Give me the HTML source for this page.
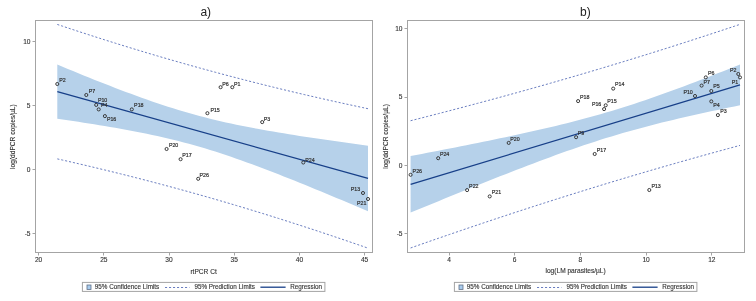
<!DOCTYPE html>
<html><head><meta charset="utf-8"><style>
html,body{margin:0;padding:0;background:#fff;}
body{width:756px;height:301px;overflow:hidden;}
svg{display:block;will-change:transform;filter:blur(0.3px);}
text{font-family:"Liberation Sans",sans-serif;fill:#333333;}
.pl{font-size:5.3px;stroke:#333;stroke-width:0.2px;}
.tk{font-size:6.6px;stroke:#333;stroke-width:0.12px;}
.al{font-size:6.6px;stroke:#333;stroke-width:0.12px;}
.lg{font-size:6.3px;stroke:#333;stroke-width:0.12px;}
.ti{font-size:12px;fill:#222;}
</style></head><body>
<svg width="756" height="301" viewBox="0 0 756 301">
<rect width="756" height="301" fill="#fff"/>
<path d="M57.30,64.61 L62.57,66.79 L67.83,68.96 L73.10,71.12 L78.36,73.27 L83.63,75.41 L88.90,77.53 L94.16,79.64 L99.43,81.73 L104.69,83.80 L109.96,85.86 L115.23,87.89 L120.49,89.90 L125.76,91.89 L131.03,93.85 L136.29,95.78 L141.56,97.68 L146.82,99.55 L152.09,101.38 L157.36,103.18 L162.62,104.93 L167.89,106.65 L173.15,108.31 L178.42,109.94 L183.69,111.51 L188.95,113.04 L194.22,114.51 L199.48,115.94 L204.75,117.32 L210.02,118.65 L215.28,119.94 L220.55,121.18 L225.82,122.38 L231.08,123.54 L236.35,124.66 L241.61,125.74 L246.88,126.79 L252.15,127.81 L257.41,128.79 L262.68,129.76 L267.94,130.69 L273.21,131.60 L278.48,132.50 L283.74,133.37 L289.01,134.22 L294.27,135.06 L299.54,135.89 L304.81,136.69 L310.07,137.49 L315.34,138.28 L320.61,139.05 L325.87,139.81 L331.14,140.57 L336.40,141.31 L341.67,142.05 L346.94,142.78 L352.20,143.51 L357.47,144.23 L362.73,144.94 L368.00,145.65 L368.00,211.21 L362.73,208.97 L357.47,206.75 L352.20,204.52 L346.94,202.31 L341.67,200.10 L336.40,197.89 L331.14,195.70 L325.87,193.51 L320.61,191.34 L315.34,189.17 L310.07,187.01 L304.81,184.87 L299.54,182.74 L294.27,180.62 L289.01,178.52 L283.74,176.43 L278.48,174.36 L273.21,172.31 L267.94,170.28 L262.68,168.28 L257.41,166.30 L252.15,164.35 L246.88,162.42 L241.61,160.53 L236.35,158.67 L231.08,156.85 L225.82,155.07 L220.55,153.32 L215.28,151.62 L210.02,149.97 L204.75,148.36 L199.48,146.80 L194.22,145.29 L188.95,143.82 L183.69,142.41 L178.42,141.04 L173.15,139.72 L167.89,138.45 L162.62,137.22 L157.36,136.04 L152.09,134.89 L146.82,133.78 L141.56,132.71 L136.29,131.67 L131.03,130.66 L125.76,129.68 L120.49,128.73 L115.23,127.80 L109.96,126.89 L104.69,126.00 L99.43,125.14 L94.16,124.29 L88.90,123.45 L83.63,122.63 L78.36,121.83 L73.10,121.03 L67.83,120.25 L62.57,119.48 L57.30,118.72 Z" fill="#b6d1ea"/>
<path d="M57.30,24.45 L62.57,26.20 L67.83,27.94 L73.10,29.68 L78.36,31.40 L83.63,33.11 L88.90,34.81 L94.16,36.50 L99.43,38.18 L104.69,39.85 L109.96,41.51 L115.23,43.15 L120.49,44.79 L125.76,46.41 L131.03,48.03 L136.29,49.63 L141.56,51.22 L146.82,52.80 L152.09,54.36 L157.36,55.92 L162.62,57.46 L167.89,58.99 L173.15,60.51 L178.42,62.02 L183.69,63.51 L188.95,65.00 L194.22,66.47 L199.48,67.93 L204.75,69.38 L210.02,70.82 L215.28,72.24 L220.55,73.65 L225.82,75.06 L231.08,76.44 L236.35,77.82 L241.61,79.19 L246.88,80.54 L252.15,81.89 L257.41,83.22 L262.68,84.54 L267.94,85.85 L273.21,87.14 L278.48,88.43 L283.74,89.71 L289.01,90.97 L294.27,92.22 L299.54,93.47 L304.81,94.70 L310.07,95.92 L315.34,97.13 L320.61,98.33 L325.87,99.53 L331.14,100.71 L336.40,101.88 L341.67,103.04 L346.94,104.19 L352.20,105.33 L357.47,106.47 L362.73,107.59 L368.00,108.71" fill="none" stroke="#6a7ec0" stroke-width="1" stroke-dasharray="2.1,1.9"/>
<path d="M57.30,158.89 L62.57,160.07 L67.83,161.27 L73.10,162.48 L78.36,163.70 L83.63,164.93 L88.90,166.17 L94.16,167.42 L99.43,168.68 L104.69,169.95 L109.96,171.24 L115.23,172.53 L120.49,173.84 L125.76,175.15 L131.03,176.48 L136.29,177.82 L141.56,179.17 L146.82,180.54 L152.09,181.91 L157.36,183.30 L162.62,184.69 L167.89,186.10 L173.15,187.53 L178.42,188.96 L183.69,190.40 L188.95,191.86 L194.22,193.33 L199.48,194.81 L204.75,196.30 L210.02,197.81 L215.28,199.32 L220.55,200.85 L225.82,202.39 L231.08,203.94 L236.35,205.51 L241.61,207.08 L246.88,208.67 L252.15,210.27 L257.41,211.88 L262.68,213.50 L267.94,215.13 L273.21,216.77 L278.48,218.43 L283.74,220.09 L289.01,221.77 L294.27,223.46 L299.54,225.15 L304.81,226.86 L310.07,228.58 L315.34,230.31 L320.61,232.05 L325.87,233.80 L331.14,235.56 L336.40,237.33 L341.67,239.11 L346.94,240.90 L352.20,242.70 L357.47,244.51 L362.73,246.32 L368.00,248.15" fill="none" stroke="#6a7ec0" stroke-width="1" stroke-dasharray="2.1,1.9"/>
<line x1="57.30" y1="91.67" x2="368.00" y2="178.43" stroke="#173f88" stroke-width="1.3"/>
<circle cx="57.3" cy="84" r="1.55" fill="none" stroke="#333333" stroke-width="0.95"/>
<text x="59.2" y="81.50" class="pl">P2</text>
<circle cx="86.3" cy="95" r="1.55" fill="none" stroke="#333333" stroke-width="0.95"/>
<text x="88.7" y="92.70" class="pl">P7</text>
<circle cx="96.2" cy="104.9" r="1.55" fill="none" stroke="#333333" stroke-width="0.95"/>
<text x="97.9" y="102.20" class="pl">P10</text>
<circle cx="98.7" cy="109.4" r="1.55" fill="none" stroke="#333333" stroke-width="0.95"/>
<text x="101" y="106.90" class="pl">P4</text>
<circle cx="104.9" cy="116.1" r="1.55" fill="none" stroke="#333333" stroke-width="0.95"/>
<text x="106.9" y="121.30" class="pl">P16</text>
<circle cx="131.8" cy="109.4" r="1.55" fill="none" stroke="#333333" stroke-width="0.95"/>
<text x="134.1" y="107.10" class="pl">P18</text>
<circle cx="166.6" cy="149" r="1.55" fill="none" stroke="#333333" stroke-width="0.95"/>
<text x="168.9" y="146.80" class="pl">P20</text>
<circle cx="180.6" cy="159.2" r="1.55" fill="none" stroke="#333333" stroke-width="0.95"/>
<text x="182.2" y="156.80" class="pl">P17</text>
<circle cx="198.2" cy="178.8" r="1.55" fill="none" stroke="#333333" stroke-width="0.95"/>
<text x="199.5" y="176.70" class="pl">P26</text>
<circle cx="207.4" cy="113.2" r="1.55" fill="none" stroke="#333333" stroke-width="0.95"/>
<text x="210.4" y="111.70" class="pl">P15</text>
<circle cx="220.6" cy="87.2" r="1.55" fill="none" stroke="#333333" stroke-width="0.95"/>
<text x="222.3" y="85.80" class="pl">P6</text>
<circle cx="232.3" cy="87.2" r="1.55" fill="none" stroke="#333333" stroke-width="0.95"/>
<text x="233.9" y="85.80" class="pl">P1</text>
<circle cx="262.2" cy="122.1" r="1.55" fill="none" stroke="#333333" stroke-width="0.95"/>
<text x="263.8" y="120.70" class="pl">P3</text>
<circle cx="303.3" cy="162.5" r="1.55" fill="none" stroke="#333333" stroke-width="0.95"/>
<text x="305.2" y="161.70" class="pl">P24</text>
<circle cx="363" cy="193" r="1.55" fill="none" stroke="#333333" stroke-width="0.95"/>
<text x="350.8" y="191.00" class="pl">P13</text>
<circle cx="368" cy="199" r="1.55" fill="none" stroke="#333333" stroke-width="0.95"/>
<text x="357" y="205.00" class="pl">P21</text>
<rect x="35.5" y="20.5" width="337.0" height="232.0" fill="none" stroke="#a4a4a4" stroke-width="1"/>
<line x1="38.5" y1="252.5" x2="38.5" y2="255.5" stroke="#a4a4a4" stroke-width="1"/>
<text x="38.6" y="261.7" class="tk" text-anchor="middle">20</text>
<line x1="103.5" y1="252.5" x2="103.5" y2="255.5" stroke="#a4a4a4" stroke-width="1"/>
<text x="103.8" y="261.7" class="tk" text-anchor="middle">25</text>
<line x1="169.5" y1="252.5" x2="169.5" y2="255.5" stroke="#a4a4a4" stroke-width="1"/>
<text x="169" y="261.7" class="tk" text-anchor="middle">30</text>
<line x1="234.5" y1="252.5" x2="234.5" y2="255.5" stroke="#a4a4a4" stroke-width="1"/>
<text x="234.2" y="261.7" class="tk" text-anchor="middle">35</text>
<line x1="299.5" y1="252.5" x2="299.5" y2="255.5" stroke="#a4a4a4" stroke-width="1"/>
<text x="299.4" y="261.7" class="tk" text-anchor="middle">40</text>
<line x1="364.5" y1="252.5" x2="364.5" y2="255.5" stroke="#a4a4a4" stroke-width="1"/>
<text x="364.6" y="261.7" class="tk" text-anchor="middle">45</text>
<line x1="32.5" y1="41.5" x2="35.5" y2="41.5" stroke="#a4a4a4" stroke-width="1"/>
<text x="30.5" y="43.6" class="tk" text-anchor="end">10</text>
<line x1="32.5" y1="105.5" x2="35.5" y2="105.5" stroke="#a4a4a4" stroke-width="1"/>
<text x="30.5" y="107.7" class="tk" text-anchor="end">5</text>
<line x1="32.5" y1="169.5" x2="35.5" y2="169.5" stroke="#a4a4a4" stroke-width="1"/>
<text x="30.5" y="171.9" class="tk" text-anchor="end">0</text>
<line x1="32.5" y1="233.5" x2="35.5" y2="233.5" stroke="#a4a4a4" stroke-width="1"/>
<text x="30.5" y="236.1" class="tk" text-anchor="end">-5</text>
<text x="205.75" y="15.6" class="ti" text-anchor="middle">a)</text>
<text x="203.6" y="273.8" class="al" text-anchor="middle">rtPCR Ct</text>
<text transform="translate(14.6,136.6) rotate(-90)" class="al" text-anchor="middle">log(ddPCR copies/µL)</text>
<path d="M410.60,156.07 L416.18,155.01 L421.77,153.94 L427.35,152.87 L432.93,151.79 L438.52,150.71 L444.10,149.62 L449.68,148.53 L455.26,147.43 L460.85,146.32 L466.43,145.21 L472.01,144.09 L477.60,142.97 L483.18,141.83 L488.76,140.69 L494.35,139.54 L499.93,138.37 L505.51,137.20 L511.09,136.01 L516.68,134.81 L522.26,133.59 L527.84,132.36 L533.43,131.11 L539.01,129.85 L544.59,128.56 L550.18,127.25 L555.76,125.91 L561.34,124.56 L566.93,123.17 L572.51,121.75 L578.09,120.31 L583.67,118.83 L589.26,117.32 L594.84,115.77 L600.42,114.19 L606.01,112.57 L611.59,110.91 L617.17,109.21 L622.76,107.48 L628.34,105.71 L633.92,103.90 L639.51,102.05 L645.09,100.18 L650.67,98.26 L656.25,96.32 L661.84,94.35 L667.42,92.35 L673.00,90.32 L678.59,88.27 L684.17,86.19 L689.75,84.10 L695.34,81.98 L700.92,79.85 L706.50,77.70 L712.08,75.54 L717.67,73.36 L723.25,71.17 L728.83,68.97 L734.42,66.75 L740.00,64.53 L740.00,105.23 L734.42,106.38 L728.83,107.54 L723.25,108.71 L717.67,109.89 L712.08,111.08 L706.50,112.29 L700.92,113.51 L695.34,114.75 L689.75,116.01 L684.17,117.29 L678.59,118.58 L673.00,119.90 L667.42,121.25 L661.84,122.62 L656.25,124.02 L650.67,125.45 L645.09,126.91 L639.51,128.40 L633.92,129.93 L628.34,131.49 L622.76,133.09 L617.17,134.73 L611.59,136.40 L606.01,138.12 L600.42,139.87 L594.84,141.65 L589.26,143.48 L583.67,145.34 L578.09,147.23 L572.51,149.16 L566.93,151.12 L561.34,153.10 L555.76,155.11 L550.18,157.15 L544.59,159.21 L539.01,161.30 L533.43,163.40 L527.84,165.52 L522.26,167.66 L516.68,169.82 L511.09,171.99 L505.51,174.18 L499.93,176.37 L494.35,178.58 L488.76,180.80 L483.18,183.03 L477.60,185.27 L472.01,187.51 L466.43,189.77 L460.85,192.03 L455.26,194.29 L449.68,196.57 L444.10,198.85 L438.52,201.13 L432.93,203.42 L427.35,205.71 L421.77,208.01 L416.18,210.31 L410.60,212.62 Z" fill="#b6d1ea"/>
<path d="M410.60,120.72 L416.18,119.31 L421.77,117.89 L427.35,116.47 L432.93,115.03 L438.52,113.59 L444.10,112.15 L449.68,110.69 L455.26,109.23 L460.85,107.77 L466.43,106.29 L472.01,104.81 L477.60,103.32 L483.18,101.83 L488.76,100.32 L494.35,98.81 L499.93,97.29 L505.51,95.77 L511.09,94.23 L516.68,92.69 L522.26,91.14 L527.84,89.58 L533.43,88.02 L539.01,86.45 L544.59,84.86 L550.18,83.28 L555.76,81.68 L561.34,80.07 L566.93,78.46 L572.51,76.84 L578.09,75.21 L583.67,73.57 L589.26,71.92 L594.84,70.27 L600.42,68.60 L606.01,66.93 L611.59,65.25 L617.17,63.56 L622.76,61.87 L628.34,60.16 L633.92,58.45 L639.51,56.73 L645.09,55.00 L650.67,53.26 L656.25,51.51 L661.84,49.76 L667.42,48.00 L673.00,46.23 L678.59,44.45 L684.17,42.66 L689.75,40.87 L695.34,39.06 L700.92,37.25 L706.50,35.43 L712.08,33.61 L717.67,31.77 L723.25,29.93 L728.83,28.08 L734.42,26.22 L740.00,24.36" fill="none" stroke="#6a7ec0" stroke-width="1" stroke-dasharray="2.1,1.9"/>
<path d="M410.60,247.97 L416.18,246.01 L421.77,244.06 L427.35,242.11 L432.93,240.17 L438.52,238.24 L444.10,236.32 L449.68,234.40 L455.26,232.49 L460.85,230.58 L466.43,228.68 L472.01,226.79 L477.60,224.91 L483.18,223.04 L488.76,221.17 L494.35,219.31 L499.93,217.45 L505.51,215.61 L511.09,213.77 L516.68,211.94 L522.26,210.12 L527.84,208.30 L533.43,206.50 L539.01,204.70 L544.59,202.91 L550.18,201.13 L555.76,199.35 L561.34,197.59 L566.93,195.83 L572.51,194.08 L578.09,192.34 L583.67,190.60 L589.26,188.88 L594.84,187.16 L600.42,185.45 L606.01,183.75 L611.59,182.06 L617.17,180.38 L622.76,178.70 L628.34,177.03 L633.92,175.38 L639.51,173.73 L645.09,172.08 L650.67,170.45 L656.25,168.82 L661.84,167.21 L667.42,165.60 L673.00,164.00 L678.59,162.40 L684.17,160.82 L689.75,159.24 L695.34,157.67 L700.92,156.11 L706.50,154.56 L712.08,153.01 L717.67,151.48 L723.25,149.95 L728.83,148.42 L734.42,146.91 L740.00,145.40" fill="none" stroke="#6a7ec0" stroke-width="1" stroke-dasharray="2.1,1.9"/>
<line x1="410.60" y1="184.35" x2="740.00" y2="84.88" stroke="#173f88" stroke-width="1.3"/>
<circle cx="410.6" cy="174.8" r="1.55" fill="none" stroke="#333333" stroke-width="0.95"/>
<text x="412.6" y="173.30" class="pl">P26</text>
<circle cx="438.2" cy="158.2" r="1.55" fill="none" stroke="#333333" stroke-width="0.95"/>
<text x="439.9" y="156.40" class="pl">P24</text>
<circle cx="467.1" cy="190.1" r="1.55" fill="none" stroke="#333333" stroke-width="0.95"/>
<text x="469.1" y="188.30" class="pl">P22</text>
<circle cx="489.7" cy="196.4" r="1.55" fill="none" stroke="#333333" stroke-width="0.95"/>
<text x="491.7" y="194.30" class="pl">P21</text>
<circle cx="508.7" cy="142.9" r="1.55" fill="none" stroke="#333333" stroke-width="0.95"/>
<text x="510.3" y="141.10" class="pl">P20</text>
<circle cx="576.1" cy="137.2" r="1.55" fill="none" stroke="#333333" stroke-width="0.95"/>
<text x="577.8" y="135.30" class="pl">P9</text>
<circle cx="578.1" cy="101.1" r="1.55" fill="none" stroke="#333333" stroke-width="0.95"/>
<text x="580" y="99.40" class="pl">P18</text>
<circle cx="594.7" cy="154" r="1.55" fill="none" stroke="#333333" stroke-width="0.95"/>
<text x="596.7" y="151.80" class="pl">P17</text>
<circle cx="604.1" cy="109.1" r="1.55" fill="none" stroke="#333333" stroke-width="0.95"/>
<text x="591.9" y="106.10" class="pl">P16</text>
<circle cx="605.7" cy="105.3" r="1.55" fill="none" stroke="#333333" stroke-width="0.95"/>
<text x="607.3" y="103.40" class="pl">P15</text>
<circle cx="613.2" cy="88.6" r="1.55" fill="none" stroke="#333333" stroke-width="0.95"/>
<text x="615" y="86.20" class="pl">P14</text>
<circle cx="649.3" cy="190" r="1.55" fill="none" stroke="#333333" stroke-width="0.95"/>
<text x="651.4" y="187.90" class="pl">P13</text>
<circle cx="695" cy="96" r="1.55" fill="none" stroke="#333333" stroke-width="0.95"/>
<text x="683.4" y="93.50" class="pl">P10</text>
<circle cx="701.6" cy="85.6" r="1.55" fill="none" stroke="#333333" stroke-width="0.95"/>
<text x="703.4" y="83.50" class="pl">P7</text>
<circle cx="705.8" cy="77.4" r="1.55" fill="none" stroke="#333333" stroke-width="0.95"/>
<text x="707.9" y="74.90" class="pl">P6</text>
<circle cx="711.3" cy="91" r="1.55" fill="none" stroke="#333333" stroke-width="0.95"/>
<text x="713.2" y="88.10" class="pl">P5</text>
<circle cx="711.3" cy="101.4" r="1.55" fill="none" stroke="#333333" stroke-width="0.95"/>
<text x="713.2" y="106.70" class="pl">P4</text>
<circle cx="717.9" cy="115.1" r="1.55" fill="none" stroke="#333333" stroke-width="0.95"/>
<text x="720.2" y="112.50" class="pl">P3</text>
<circle cx="738.3" cy="74" r="1.55" fill="none" stroke="#333333" stroke-width="0.95"/>
<text x="730" y="71.80" class="pl">P2</text>
<circle cx="740" cy="77.4" r="1.55" fill="none" stroke="#333333" stroke-width="0.95"/>
<text x="731.8" y="83.50" class="pl">P1</text>
<rect x="407.5" y="20.5" width="337.0" height="232.0" fill="none" stroke="#a4a4a4" stroke-width="1"/>
<line x1="449.5" y1="252.5" x2="449.5" y2="255.5" stroke="#a4a4a4" stroke-width="1"/>
<text x="449.0" y="261.7" class="tk" text-anchor="middle">4</text>
<line x1="514.5" y1="252.5" x2="514.5" y2="255.5" stroke="#a4a4a4" stroke-width="1"/>
<text x="514.7" y="261.7" class="tk" text-anchor="middle">6</text>
<line x1="580.5" y1="252.5" x2="580.5" y2="255.5" stroke="#a4a4a4" stroke-width="1"/>
<text x="580.4" y="261.7" class="tk" text-anchor="middle">8</text>
<line x1="646.5" y1="252.5" x2="646.5" y2="255.5" stroke="#a4a4a4" stroke-width="1"/>
<text x="646.1" y="261.7" class="tk" text-anchor="middle">10</text>
<line x1="711.5" y1="252.5" x2="711.5" y2="255.5" stroke="#a4a4a4" stroke-width="1"/>
<text x="711.8" y="261.7" class="tk" text-anchor="middle">12</text>
<line x1="404.5" y1="28.5" x2="407.5" y2="28.5" stroke="#a4a4a4" stroke-width="1"/>
<text x="402.5" y="31.0" class="tk" text-anchor="end">10</text>
<line x1="404.5" y1="97.5" x2="407.5" y2="97.5" stroke="#a4a4a4" stroke-width="1"/>
<text x="402.5" y="99.4" class="tk" text-anchor="end">5</text>
<line x1="404.5" y1="165.5" x2="407.5" y2="165.5" stroke="#a4a4a4" stroke-width="1"/>
<text x="402.5" y="167.8" class="tk" text-anchor="end">0</text>
<line x1="404.5" y1="233.5" x2="407.5" y2="233.5" stroke="#a4a4a4" stroke-width="1"/>
<text x="402.5" y="236.20000000000002" class="tk" text-anchor="end">-5</text>
<text x="585.35" y="15.6" class="ti" text-anchor="middle">b)</text>
<text x="575.6" y="273.0" class="al" text-anchor="middle">log(LM parasites/µL)</text>
<text transform="translate(388.3,136.5) rotate(-90)" class="al" text-anchor="middle">log(ddPCR copies/µL)</text>
<rect x="82.4" y="282.4" width="242.5" height="9" fill="#fff" stroke="#a4a4a4" stroke-width="1"/>
<rect x="87.0" y="285.0" width="4.0" height="4.4" fill="#a8ccee" stroke="#5f6f86" stroke-width="0.8"/>
<text x="94.80000000000001" y="289.0" class="lg">95% Confidence Limits</text>
<line x1="165.0" y1="287.5" x2="189.4" y2="287.5" stroke="#6a7ec0" stroke-width="1" stroke-dasharray="2.1,1.9"/>
<text x="194.4" y="289.0" class="lg">95% Prediction Limits</text>
<line x1="260.4" y1="287.2" x2="285.6" y2="287.2" stroke="#173f88" stroke-width="1.3"/>
<text x="290.20000000000005" y="289.0" class="lg">Regression</text>
<rect x="454.4" y="282.4" width="242.5" height="9" fill="#fff" stroke="#a4a4a4" stroke-width="1"/>
<rect x="459.0" y="285.0" width="4.0" height="4.4" fill="#a8ccee" stroke="#5f6f86" stroke-width="0.8"/>
<text x="466.79999999999995" y="289.0" class="lg">95% Confidence Limits</text>
<line x1="537.0" y1="287.5" x2="561.4" y2="287.5" stroke="#6a7ec0" stroke-width="1" stroke-dasharray="2.1,1.9"/>
<text x="566.4" y="289.0" class="lg">95% Prediction Limits</text>
<line x1="632.4" y1="287.2" x2="657.5999999999999" y2="287.2" stroke="#173f88" stroke-width="1.3"/>
<text x="662.2" y="289.0" class="lg">Regression</text>
</svg></body></html>
